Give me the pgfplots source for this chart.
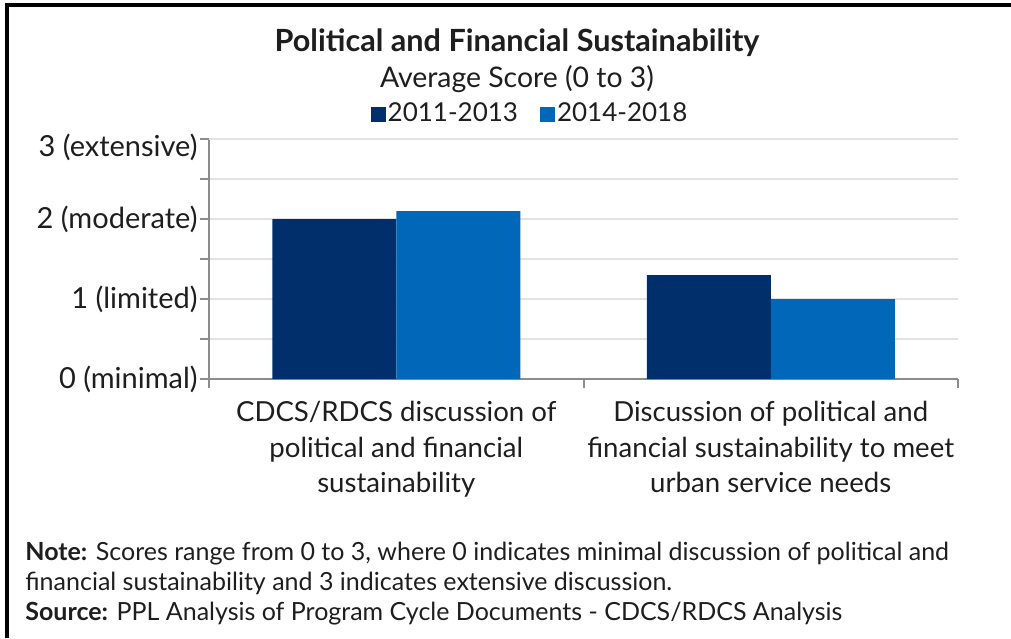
\documentclass[border=0pt]{standalone}
\usepackage{pgfplots}
\pgfplotsset{compat=1.18}
\usepackage{fontspec}
\setmainfont{Lato}
\definecolor{dark}{HTML}{002F6C}
\definecolor{mid}{HTML}{0067B9}
\definecolor{axgray}{HTML}{8C8C8C}
\definecolor{gridgray}{HTML}{E2E2E2}
\definecolor{txt}{HTML}{1E1E1E}
\begin{document}
\begin{tikzpicture}[x=0.5pt,y=0.5pt]
\useasboundingbox (0,0) rectangle (1011,638);
\draw[line width=2pt] (7,0) -- (7,633) -- (1011,633);
\node[font=\fontsize{15.3}{17}\selectfont\bfseries, text=txt, anchor=base, inner sep=0pt] at (517,586) {Political and Financial Sustainability};
\node[font=\fontsize{14.2}{16}\selectfont, text=txt, anchor=base, inner sep=0pt] at (517,550) {Average Score (0 to 3)};
\begin{axis}[
  at={(104.5pt,129.5pt)}, anchor=south west,
  scale only axis, width=374.5pt, height=120pt,
  xmin=-0.5, xmax=1.5, ymin=0, ymax=3,
  axis lines=left,
  axis line style={axgray, line width=1pt, -},
  ybar=0pt, bar width=62pt,
  ytick={0,1,2},
  yticklabels={0 (minimal),1 (limited),2 (moderate)},
  extra y ticks={3},
  extra y tick labels={3 (extensive)},
  extra y tick style={yticklabel style={yshift=-4pt}},
  minor ytick={0.5,1.5,2.5},
  ymajorgrids, yminorgrids,
  major grid style={gridgray, line width=0.8pt},
  minor grid style={gridgray, line width=0.8pt},
  xtick={-0.5,0.5,1.5}, xticklabels={},
  extra x ticks={0,1},
  extra x tick labels={{CDCS/RDCS discussion of\\political and financial\\sustainability},{Discussion of political and\\financial sustainability to meet\\urban service needs}},
  extra x tick style={major tick length=0pt, grid=none},
  tick align=outside, major tick length=4.5pt, minor tick length=4.5pt,
  tick style={axgray, line width=1pt},
  yticklabel style={font=\fontsize{14.5}{16}\selectfont, text=txt, inner sep=1pt},
  xticklabel style={font=\fontsize{13.8}{17.75}\selectfont, text=txt, align=center, inner sep=0pt, yshift=-11pt},
  legend style={at={(0.4286,1)}, anchor=center, yshift=12.5pt, draw=none, fill=none,
    legend columns=2, font=\fontsize{13}{15}\selectfont, text=txt,
    nodes={inner sep=1pt},
    /tikz/every even column/.append style={column sep=10pt}},
  legend image code/.code={\draw[#1, draw=none] (0pt,-3.75pt) rectangle (7.5pt,3.75pt);},
]
\addplot[fill=dark, draw=none] coordinates {(0,2.0) (1,1.3)};
\addplot[fill=mid, draw=none] coordinates {(0,2.1) (1,1.0)};
\legend{2011-2013,2014-2018}
\end{axis}
\node[font=\fontsize{12.5}{14}\selectfont, text=txt, anchor=base west, inner sep=0pt] at (25,78) {\textbf{Note:} Scores range from 0 to 3, where 0 indicates minimal discussion of political and};
\node[font=\fontsize{12.5}{14}\selectfont, text=txt, anchor=base west, inner sep=0pt] at (25,48) {financial sustainability and 3 indicates extensive discussion.};
\node[font=\fontsize{12.5}{14}\selectfont, text=txt, anchor=base west, inner sep=0pt] at (25,18) {\textbf{Source:} PPL Analysis of Program Cycle Documents - CDCS/RDCS Analysis};
\end{tikzpicture}
\end{document}
